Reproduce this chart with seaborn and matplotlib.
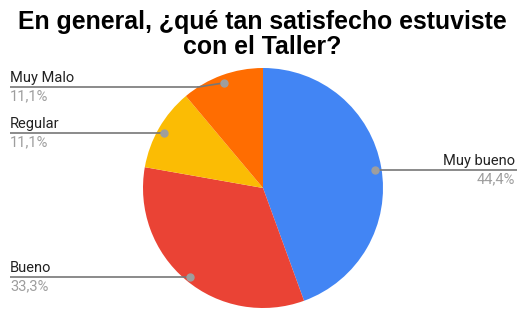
import numpy as np
import matplotlib
matplotlib.use('Agg')
import matplotlib.pyplot as plt
import seaborn as sns

categories = ['Muy bueno', 'Bueno', 'Regular', 'Muy Malo']
counts = [4, 3, 1, 1]
colors = ['#4285F4', '#EA4335', '#FBBC04', '#FF6D01']
title = 'En general, ¿qué tan satisfecho estuviste\ncon el Taller?'

sns.set_style('white')
plt.rcParams['font.family'] = ['Roboto', 'DejaVu Sans']

W, H = 517, 309
fig = plt.figure(figsize=(W / 100, H / 100), dpi=100)
ax = fig.add_axes([0, 0, 1, 1])

cx, cy, r = 263, H - 188, 120
ax.pie(counts, colors=colors, startangle=90, counterclock=False,
       center=(cx, cy), radius=r, wedgeprops=dict(linewidth=0))
ax.set_xlim(0, W)
ax.set_ylim(0, H)
ax.set_aspect('equal')
ax.axis('off')

total = sum(counts)
cum = np.cumsum([0] + counts)
# y of the label line (pixels from top, None = at the dot), side of the label
line_y = [None, None, None, 87]
side = ['right', 'left', 'left', 'left']
for i, name in enumerate(categories):
    mid = (cum[i] + cum[i + 1]) / 2 / total * 360
    th = np.deg2rad(mid)
    dx = cx + 0.95 * r * np.sin(th)
    dy = cy + 0.95 * r * np.cos(th) - 2
    ly = dy if line_y[i] is None else H - line_y[i]
    pct = f'{counts[i] / total * 100:.1f}%'.replace('.', ',')
    bend = abs(dy - ly) > 1
    if side[i] == 'right':
        xs = [dx, W]
        tx, ha = W - 2, 'right'
    else:
        xs = [10, dx - 26 if bend else dx]
        tx, ha = 10, 'left'
    ax.plot(xs, [ly, ly], color='#777777', lw=1.2, solid_capstyle='butt')
    if bend:
        ax.plot([dx - 26, dx], [ly, dy], color='#777777', lw=1.2)
    ax.plot([dx], [dy], 'o', color='#9e9e9e', ms=5)
    ax.text(tx, ly + 2, name, ha=ha, va='bottom', fontsize=10.5, color='#222222')
    ax.text(tx, ly - 2, pct, ha=ha, va='top', fontsize=10.5, color='#9e9e9e')

fig.text(0.508, 0.968, title, ha='center', va='top', fontsize=17.9,
         fontweight='bold', color='#000000', linespacing=1.08,
         family=['Liberation Sans', 'DejaVu Sans'])

fig.savefig('out.png', dpi=100)
